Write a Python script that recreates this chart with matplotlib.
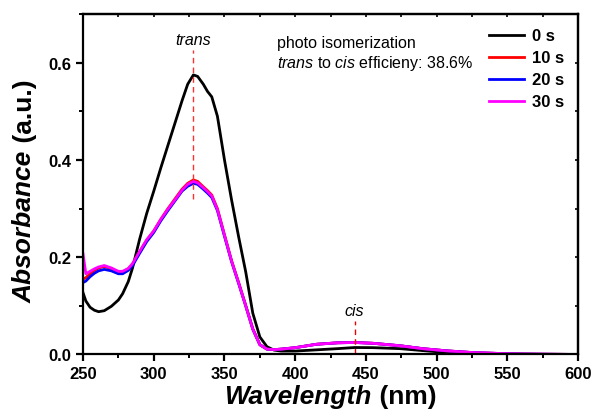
import numpy as np
import matplotlib
matplotlib.use("Agg")
import matplotlib.pyplot as plt
from matplotlib.ticker import MultipleLocator

plt.rcParams['font.family'] = ['Liberation Sans', 'DejaVu Sans']
plt.rcParams['mathtext.fontset'] = 'custom'
plt.rcParams['mathtext.rm'] = 'Liberation Sans'
plt.rcParams['mathtext.it'] = 'Liberation Sans:italic'

# wavelength grid (nm) and absorbance
wl = [250, 252, 255, 258, 261, 265, 270, 275, 278, 282, 285, 290, 295, 300,
      305, 310, 315, 320, 324, 328, 331, 335, 338, 341, 345, 350, 355, 360,
      365, 370, 375, 380, 385, 390, 400, 415, 430, 442, 455, 474, 490, 507,
      525, 545, 560, 580, 600]

a_0s = [0.127, 0.110, 0.097, 0.091, 0.088, 0.090, 0.099, 0.112, 0.125, 0.150,
        0.178, 0.237, 0.290, 0.336, 0.384, 0.430, 0.476, 0.522, 0.556, 0.575,
        0.572, 0.556, 0.541, 0.530, 0.490, 0.400, 0.318, 0.242, 0.170, 0.085,
        0.036, 0.016, 0.009, 0.007, 0.007, 0.0095, 0.012, 0.0143, 0.014, 0.012,
        0.008, 0.004, 0.002, 0.001, 0.0005, 0.0, 0.0]

a_10s = [0.155, 0.158, 0.166, 0.173, 0.178, 0.181, 0.177, 0.170, 0.170, 0.176,
         0.186, 0.211, 0.235, 0.254, 0.278, 0.300, 0.320, 0.340, 0.352, 0.359,
         0.356, 0.345, 0.337, 0.328, 0.300, 0.246, 0.193, 0.148, 0.101, 0.053,
         0.020, 0.011, 0.010, 0.011, 0.014, 0.021, 0.024, 0.0248, 0.023, 0.018,
         0.012, 0.0075, 0.004, 0.002, 0.001, 0.0005, 0.0]

a_20s = [0.148, 0.151, 0.160, 0.167, 0.172, 0.175, 0.172, 0.166, 0.166, 0.173,
         0.183, 0.208, 0.232, 0.251, 0.275, 0.296, 0.316, 0.336, 0.346, 0.352,
         0.350, 0.340, 0.332, 0.323, 0.296, 0.243, 0.191, 0.146, 0.100, 0.052,
         0.020, 0.011, 0.010, 0.011, 0.014, 0.021, 0.024, 0.0246, 0.023, 0.018,
         0.012, 0.0075, 0.004, 0.002, 0.001, 0.0005, 0.0]

a_30s = [0.207, 0.166, 0.171, 0.176, 0.180, 0.183, 0.178, 0.171, 0.171, 0.177,
         0.187, 0.212, 0.236, 0.254, 0.278, 0.299, 0.318, 0.338, 0.350, 0.356,
         0.353, 0.343, 0.335, 0.326, 0.298, 0.245, 0.192, 0.147, 0.100, 0.052,
         0.020, 0.011, 0.010, 0.011, 0.014, 0.021, 0.024, 0.0246, 0.023, 0.018,
         0.012, 0.0075, 0.004, 0.002, 0.001, 0.0005, 0.0]

labels = ['0 s', '10 s', '20 s', '30 s']
colors = ['black', '#ff0000', '#0000ff', '#ff00ff']

trans_peak = 328
cis_peak = 442

fig = plt.figure(figsize=(5.93, 4.10), dpi=100)
ax = fig.add_axes([0.140, 0.133, 0.835, 0.830])

for y, lab, c in zip([a_0s, a_10s, a_20s, a_30s], labels, colors):
    ax.plot(wl, y, color=c, lw=2, label=lab, solid_joinstyle='round')

# peak markers
ax.plot([trans_peak, trans_peak], [0.32, 0.627], color='#ff3030', lw=1, ls=(0, (4, 3)))
ax.plot([cis_peak, cis_peak], [0.0, 0.069], color='#ee0000', lw=1, ls=(0, (4, 3)))
ax.text(trans_peak, 0.632, 'trans', style='italic', fontsize=11.5, ha='center', va='bottom')
ax.text(cis_peak, 0.076, 'cis', style='italic', fontsize=11.5, ha='center', va='bottom')

ax.text(387, 0.641, 'photo isomerization', fontsize=11.5, va='center')
ax.text(387, 0.600, r'$\it{trans}$ to $\it{cis}$ efficieny: 38.6%', fontsize=11.5, va='center')

ax.set_xlim(250, 600)
ax.set_ylim(0, 0.7)
ax.xaxis.set_major_locator(MultipleLocator(50))
ax.xaxis.set_minor_locator(MultipleLocator(25))
ax.yaxis.set_major_locator(MultipleLocator(0.2))
ax.yaxis.set_minor_locator(MultipleLocator(0.1))
ax.yaxis.set_major_formatter(plt.FormatStrFormatter('%.1f'))

for s in ax.spines.values():
    s.set_linewidth(1.6)
ax.tick_params(which='major', direction='out', length=5, width=1.6, labelsize=12)
ax.tick_params(which='minor', direction='out', length=3, width=1.4)
for t in ax.get_xticklabels() + ax.get_yticklabels():
    t.set_fontweight('bold')

# tiny ticks on the top and right frame
top = ax.secondary_xaxis('top')
right = ax.secondary_yaxis('right')
for sec in (top, right):
    sec.spines[:].set_linewidth(1.6)
    sec.tick_params(which='both', direction='in', length=2, width=1.2,
                    labeltop=False, labelright=False)
top.xaxis.set_major_locator(MultipleLocator(50))
top.xaxis.set_minor_locator(MultipleLocator(25))
right.yaxis.set_major_locator(MultipleLocator(0.2))
right.yaxis.set_minor_locator(MultipleLocator(0.1))
top.set_xticklabels([])
right.set_yticklabels([])

leg = ax.legend(loc='upper right', frameon=False, handlelength=2.1, handletextpad=0.45,
                labelspacing=0.42, borderaxespad=0.45, prop={'weight': 'bold', 'size': 12})

# axis titles: italic word plus upright unit
ax.text(0.583, -0.122, 'Wavelength', transform=ax.transAxes, fontsize=19,
        fontweight='bold', style='italic', ha='right', va='center')
ax.text(0.583, -0.122, ' (nm)', transform=ax.transAxes, fontsize=19,
        fontweight='bold', ha='left', va='center')
ax.text(-0.118, 0.603, 'Absorbance', transform=ax.transAxes, fontsize=19,
        fontweight='bold', style='italic', rotation=90, ha='center', va='top')
ax.text(-0.118, 0.603, ' (a.u.)', transform=ax.transAxes, fontsize=19,
        fontweight='bold', rotation=90, ha='center', va='bottom')

fig.savefig('out.png', dpi=100)
